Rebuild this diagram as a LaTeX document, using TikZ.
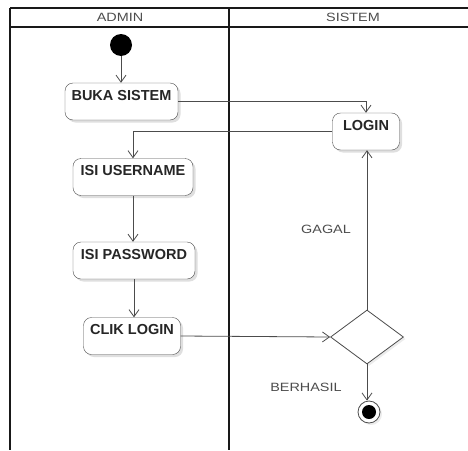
\documentclass[tikz,border=0pt]{standalone}
\usepackage{fontspec}
\setmainfont{Liberation Sans}
\newfontfamily\lanefont[FakeStretch=1.2]{Liberation Sans}
\usepackage{tikz}
\usetikzlibrary{shapes,arrows,arrows.meta,shadows}
\usetikzlibrary{positioning}

\tikzset{
  act/.style={draw=black!70,rounded corners=8pt,fill=white,inner xsep=3pt,inner ysep=7pt,
    text height=10pt,text depth=13pt,text=black!85,font=\fontsize{14.5}{16}\selectfont\bfseries,
    drop shadow={shadow xshift=2.5pt,shadow yshift=-2.5pt,fill=black!25,opacity=0.5}},
  flow/.style={draw=black!70,line width=0.8pt,-{Straight Barb[length=7pt,width=10pt]}},
  lbl/.style={text=black!70,font=\lanefont\fontsize{12}{14}\selectfont},
  lane/.style={draw=black!90,line width=1.7pt}
}

\begin{document}
\begin{tikzpicture}[x=1pt,y=-1pt]
\useasboundingbox (0,0) rectangle (468,450);

% swimlanes
\coordinate (tl) at (10,8);
\coordinate (hl) at (10,27);
\coordinate (tm) at (229,8);
\draw[lane] (tl) -- (468,8);
\draw[lane] (hl) -- (468,27);
\draw[lane] (tl) -- (10,450);
\draw[lane] (tm) -- (229,450);
\node[lbl] (admin) at (120,17) {ADMIN};
\node[lbl] (sistem) at (353,17) {SISTEM};

% admin lane
\node[circle,fill=black,minimum size=22pt,inner sep=0pt] (start) at (121,45) {};
\node[act,minimum width=113pt] (buka) at (121.5,101.5) {BUKA SISTEM};
\node[act,minimum width=120pt] (user) at (133,177) {ISI USERNAME};
\node[act,minimum width=122pt] (pass) at (134,260.5) {ISI PASSWORD};
\node[act,minimum width=97pt] (clik) at (132,336) {CLIK LOGIN};

% sistem lane
\node[act,minimum width=67pt] (login) at (366,131.5) {LOGIN};
\node[diamond,draw=black!70,fill=white,line width=0.8pt,minimum width=73pt,minimum height=54pt,inner sep=0pt,
  drop shadow={shadow xshift=2pt,shadow yshift=-2pt,fill=black!15,opacity=0.5}] (cek) at (367,337) {};
\node[circle,draw=black!70,fill=white,line width=0.8pt,minimum size=22pt,inner sep=0pt,
  drop shadow={shadow xshift=2pt,shadow yshift=-2pt,fill=black!15,opacity=0.5}] (stop) at (369,412) {};
\fill[black] (stop) circle (7pt);

\node[lbl] (gagal) at (326,229) {GAGAL};
\node[lbl] (berhasil) at (306,387) {BERHASIL};

% flows
\draw[flow] (start) -- (start |- buka.north);
\draw[flow] (buka.east) -| (login.north);
\draw[flow] (login.west) -| (user.north);
\draw[flow] (user.south) -- (user.south |- pass.north);
\draw[flow] (pass.south) -- (pass.south |- clik.north);
\draw[flow] (clik.east) -- (cek.west);
\draw[flow] (cek.north) -- (cek.north |- login.south);
\draw[flow] (cek.south) -- (cek.south |- stop.north);

\end{tikzpicture}
\end{document}
